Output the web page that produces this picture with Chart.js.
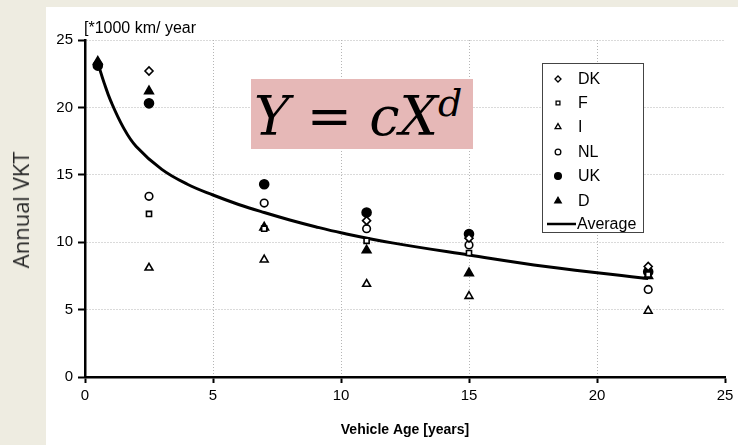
<!DOCTYPE html>
<html>
<head>
<meta charset="utf-8">
<script src="https://cdn.jsdelivr.net/npm/chart.js@4/dist/chart.umd.min.js"></script>
<style>
  html, body { margin: 0; padding: 0; background: #eeece1; }
  #wrap { position: relative; width: 738px; height: 445px; overflow: hidden; }
  #chart { position: absolute; left: 0; top: 0; }
  #ylabel {
    position: absolute; left: 20px; top: 210px;
    transform: translate(-50%, -50%) rotate(-90deg);
    font: 22px "Open Sans", sans-serif; color: #262626; white-space: nowrap;
  }
  #formula {
    position: absolute; left: 251px; top: 79px; width: 222px; height: 70px;
    background: #e6b8b7; font: italic 54px "DejaVu Serif", serif; color: #000;
    line-height: 70px; white-space: nowrap; padding-left: 3px; box-sizing: border-box;
  }
  #formula span { position: relative; top: 3px; }
  #formula sup { font-size: 38px; vertical-align: 0; position: relative; top: -19px; }
</style>
</head>
<body>
<div id="wrap">
  <canvas id="chart" width="738" height="445"></canvas>
  <div id="ylabel">Annual VKT</div>
  <div id="formula"><span>Y = cX<sup>d</sup></span></div>
</div>
<script>
"use strict";
const ages = [0.5, 2.5, 7, 11, 15, 22];
const vktDK = [null, 22.7, null, 11.6, 10.3, 8.2];
const vktF = [null, 12.1, 11.0, 10.1, 9.2, 7.6];
const vktI = [null, 8.1, 8.7, 6.9, 6.0, 4.9];
const vktNL = [null, 13.4, 12.9, 11.0, 9.8, 6.5];
const vktUK = [23.1, 20.3, 14.3, 12.2, 10.6, 7.8];
const vktD = [23.4, 21.2, 11.1, 9.4, 7.7, 7.5];
const avgAges = [0.5, 0.75, 1, 1.5, 2, 3, 4, 5, 6, 7, 8, 9, 10, 12, 15, 18, 22];
const avgVkt = [23.3, 21.8, 20.5, 18.5, 17.1, 15.4, 14.3, 13.5, 12.8, 12.2, 11.65, 11.15, 10.7, 9.95, 9.05, 8.2, 7.3];
const xTicks = [0, 5, 10, 15, 20, 25];
const yTicks = [0, 5, 10, 15, 20, 25];

function toPoints(xs, ys) {
    const pts = [];
    for (let i = 0; i < xs.length; i++) {
        if (ys[i] !== null) pts.push({ x: xs[i], y: ys[i] });
    }
    return pts;
}
function markerSet(label, ys, style, filled, radius) {
    return {
        label: label,
        data: toPoints(ages, ys),
        pointStyle: style,
        pointRadius: radius,
        pointBorderWidth: 1.6,
        borderColor: '#000',
        pointBackgroundColor: filled ? '#000' : '#fff',
        showLine: false
    };
}
const datasets = [
    {
        label: 'Average',
        data: toPoints(avgAges, avgVkt),
        showLine: true,
        borderColor: '#000',
        borderWidth: 3,
        pointRadius: 0,
        tension: 0.4,
        order: 10
    },
    markerSet('DK', vktDK, 'rectRot', false, 4),
    markerSet('F', vktF, 'rect', false, 3.6),
    markerSet('I', vktI, 'triangle', false, 4.5),
    markerSet('NL', vktNL, 'circle', false, 3.8),
    markerSet('UK', vktUK, 'circle', true, 4.5),
    markerSet('D', vktD, 'triangle', true, 5)
];

const backdrop = {
    id: 'backdrop',
    beforeDraw(chart) {
        const c = chart.ctx;
        c.save();
        c.fillStyle = '#eeece1';
        c.fillRect(0, 0, chart.width, chart.height);
        c.fillStyle = '#fff';
        c.fillRect(46, 7, chart.width - 46, chart.height - 7);
        c.restore();
    },
    afterDraw(chart) {
        const c = chart.ctx;
        const area = chart.chartArea;
        c.save();
        c.fillStyle = '#000';
        c.font = '16px "Liberation Sans", Arial, sans-serif';
        c.textBaseline = 'alphabetic';
        c.fillText('[*1000 km/ year', area.left - 1, area.top - 7);
        // legend box
        const bx = 542, by = 63, bw = 101, bh = 169;
        c.fillStyle = '#fff';
        c.fillRect(bx, by, bw, bh);
        c.strokeStyle = '#444';
        c.lineWidth = 1;
        c.strokeRect(bx + 0.5, by + 0.5, bw, bh);
        const rows = [79, 103, 127, 152, 176, 201];
        const marks = chart.data.datasets.slice(1);
        c.textBaseline = 'middle';
        marks.forEach((ds, i) => {
            c.fillStyle = ds.pointBackgroundColor;
            c.strokeStyle = '#000';
            c.lineWidth = 1.3;
            Chart.helpers.drawPoint(c, { pointStyle: ds.pointStyle, radius: ds.pointRadius * 0.75, borderWidth: 1.3, rotation: 0 }, 558, rows[i]);
            c.fillStyle = '#000';
            c.fillText(ds.label, 578, rows[i] + 1);
        });
        c.strokeStyle = '#000';
        c.lineWidth = 2.5;
        c.beginPath();
        c.moveTo(547, 224);
        c.lineTo(576, 224);
        c.stroke();
        c.fillText('Average', 577, 225);
        c.restore();
    }
};

const tickFont = { family: '"Liberation Sans", Arial, sans-serif', size: 15 };
const chart = new Chart(document.getElementById('chart').getContext('2d'), {
    type: 'scatter',
    data: { datasets: datasets },
    options: {
        responsive: false,
        devicePixelRatio: 1,
        animation: false,
        layout: { padding: { left: 40, right: 13, top: 40, bottom: 2 } },
        plugins: { legend: { display: false }, tooltip: { enabled: false } },
        scales: {
            x: {
                type: 'linear', min: 0, max: 25,
                afterBuildTicks: (axis) => axis.ticks = xTicks.map(v => ({ value: v })),
                afterFit: (axis) => { axis.height = 66; },
                ticks: { color: '#000', font: tickFont, padding: 4 },
                grid: {
                    color: (ctx) => (ctx.tick && (ctx.tick.value === 0 || ctx.tick.value === 25)) ? 'rgba(0,0,0,0)' : '#b5b5b5',
                    tickColor: '#000', tickLength: 6, lineWidth: 1, tickWidth: 2
                },
                border: { color: '#000', width: 2.5, dash: [1, 2] },
                title: {
                    display: true, text: 'Vehicle Age [years]', color: '#000',
                    font: { family: '"Liberation Sans", Arial, sans-serif', size: 14, weight: 'bold' }
                }
            },
            y: {
                type: 'linear', min: 0, max: 25,
                afterBuildTicks: (axis) => axis.ticks = yTicks.map(v => ({ value: v })),
                afterFit: (axis) => { axis.width = 45; },
                ticks: { color: '#000', font: tickFont, padding: 5 },
                grid: {
                    color: (ctx) => (ctx.tick && ctx.tick.value === 0) ? 'rgba(0,0,0,0)' : '#b5b5b5',
                    tickColor: '#000', tickLength: 7, lineWidth: 1, tickWidth: 2
                },
                border: { color: '#000', width: 2.5, dash: [1, 2] }
            }
        }
    },
    plugins: [backdrop]
});
</script>
</body>
</html>
